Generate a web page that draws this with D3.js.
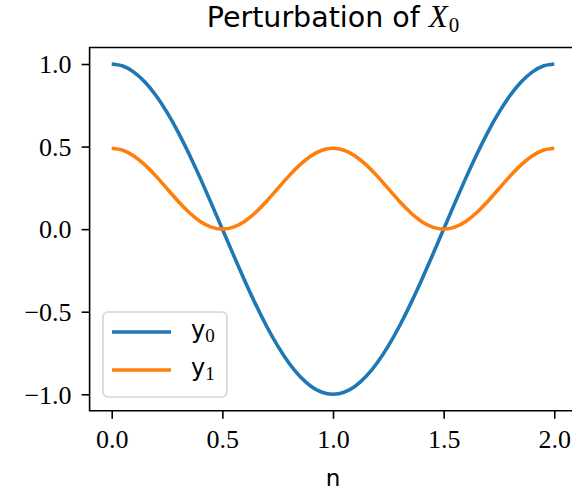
<!DOCTYPE html>
<html>
<head>
<meta charset="utf-8">
<script src="https://cdn.jsdelivr.net/npm/d3@7"></script>
<style>
  html, body { margin: 0; padding: 0; background: #fff; }
  svg { display: block; }
</style>
</head>
<body>
<svg id="chart" width="572" height="495"></svg>
<script>
// Sample positions along n
const nValues = [
  0.00, 0.05, 0.10, 0.15, 0.20, 0.25, 0.30, 0.35, 0.40, 0.45,
  0.50, 0.55, 0.60, 0.65, 0.70, 0.75, 0.80, 0.85, 0.90, 0.95,
  1.00, 1.05, 1.10, 1.15, 1.20, 1.25, 1.30, 1.35, 1.40, 1.45,
  1.50, 1.55, 1.60, 1.65, 1.70, 1.75, 1.80, 1.85, 1.90, 1.95, 2.00
];

// y0 series
const y0Values = [
  1.000, 0.988, 0.951, 0.891, 0.809, 0.707, 0.588, 0.454, 0.309, 0.156,
  0.000, -0.156, -0.309, -0.454, -0.588, -0.707, -0.809, -0.891, -0.951, -0.988,
  -1.000, -0.988, -0.951, -0.891, -0.809, -0.707, -0.588, -0.454, -0.309, -0.156,
  0.000, 0.156, 0.309, 0.454, 0.588, 0.707, 0.809, 0.891, 0.951, 0.988, 1.000
];

// y1 series
const y1Values = [
  0.490, 0.478, 0.443, 0.389, 0.321, 0.245, 0.169, 0.101, 0.047, 0.012,
  0.000, 0.012, 0.047, 0.101, 0.169, 0.245, 0.321, 0.389, 0.443, 0.478,
  0.490, 0.478, 0.443, 0.389, 0.321, 0.245, 0.169, 0.101, 0.047, 0.012,
  0.000, 0.012, 0.047, 0.101, 0.169, 0.245, 0.321, 0.389, 0.443, 0.478, 0.490
];

const xTicks = [0, 0.5, 1.0, 1.5, 2.0];
const yTicks = [-1.0, -0.5, 0.0, 0.5, 1.0];

const seriesNames = ["y0", "y1"];
const seriesColors = ["#1f77b4", "#ff7f0e"];

const svg = d3.select("#chart");
const serif = "'Liberation Serif', 'DejaVu Serif', serif";
const sans = "'DejaVu Sans', sans-serif";

const x = d3.scaleLinear().domain([-0.1, 2.1]).range([89.6, 576.4]);
const y = d3.scaleLinear().domain([-1.1, 1.1]).range([410.8, 47.5]);

const fmt = d3.format(".1f");

// Lines
const line = d3.line()
  .x(d => x(d[0]))
  .y(d => y(d[1]))
  .curve(d3.curveNatural);

const series = [y0Values, y1Values];
const plot = svg.append("g");
series.forEach((vals, i) => {
  plot.append("path")
    .datum(nValues.map((n, j) => [n, vals[j]]))
    .attr("fill", "none")
    .attr("stroke", seriesColors[i])
    .attr("stroke-width", 3.6)
    .attr("stroke-linecap", "butt")
    .attr("stroke-linejoin", "round")
    .attr("d", line);
});

// Axes
const xAxis = svg.append("g")
  .attr("transform", `translate(0,${y.range()[0]})`)
  .call(d3.axisBottom(x).tickValues(xTicks).tickFormat(fmt).tickSize(8).tickPadding(10));
const yAxis = svg.append("g")
  .attr("transform", `translate(${x.range()[0]},0)`)
  .call(d3.axisLeft(y).tickValues(yTicks).tickFormat(fmt).tickSize(8).tickPadding(10));

[xAxis, yAxis].forEach(g => {
  g.select(".domain").remove();
  g.selectAll(".tick line").attr("stroke", "#000").attr("stroke-width", 1.6);
  g.selectAll(".tick text")
    .attr("fill", "#000")
    .style("font-family", serif)
    .style("font-size", "26px");
});
xAxis.selectAll(".tick text").attr("dy", "0.72em");
yAxis.selectAll(".tick text").attr("dy", "0.34em");

// Spines (left, top, bottom; the right side runs off the canvas)
const [x0, x1] = x.range();
const [yb, yt] = y.range();
svg.append("path")
  .attr("d", `M${x1},${yt}H${x0}V${yb}H${x1}`)
  .attr("fill", "none")
  .attr("stroke", "#000")
  .attr("stroke-width", 1.6)
  .attr("stroke-linecap", "square");

// Axis label
svg.append("text")
  .attr("x", (x0 + x1) / 2)
  .attr("y", 486)
  .attr("text-anchor", "middle")
  .style("font-family", sans)
  .style("font-size", "23px")
  .text("n");

// Title
const title = svg.append("text")
  .attr("x", (x0 + x1) / 2)
  .attr("y", 27)
  .attr("text-anchor", "middle")
  .style("font-family", sans)
  .style("font-size", "28.5px");
title.append("tspan").text("Perturbation of ");
title.append("tspan").style("font-family", serif).style("font-style", "italic").style("font-size", "31px").text("X");
title.append("tspan").style("font-family", serif).style("font-size", "21px").attr("dy", 5).attr("dx", 1).text("0");

// Legend
const legend = svg.append("g");
legend.append("rect")
  .attr("x", 103).attr("y", 312)
  .attr("width", 124).attr("height", 85)
  .attr("rx", 5)
  .attr("fill", "#fff")
  .attr("fill-opacity", 0.8)
  .attr("stroke", "#d5d5d5")
  .attr("stroke-width", 1.6);

seriesNames.forEach((name, i) => {
  const ly = 332 + i * 38;
  legend.append("line")
    .attr("x1", 112).attr("x2", 171)
    .attr("y1", ly).attr("y2", ly)
    .attr("stroke", seriesColors[i])
    .attr("stroke-width", 3.6);
  const t = legend.append("text")
    .attr("x", 191)
    .attr("y", ly + 6)
    .style("font-family", sans)
    .style("font-size", "24px");
  t.append("tspan").text(name.charAt(0));
  t.append("tspan").style("font-family", serif).style("font-size", "19px").attr("dy", 4).text(name.slice(1));
});
</script>
</body>
</html>
